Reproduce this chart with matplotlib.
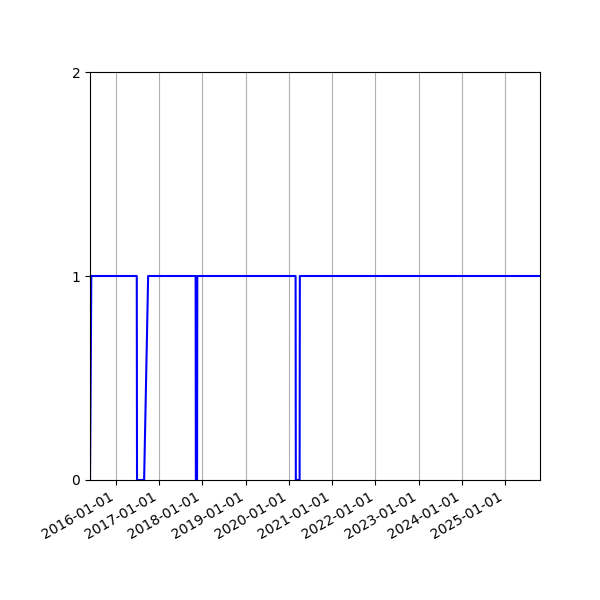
import matplotlib
matplotlib.use("Agg")
import matplotlib.pyplot as plt
import matplotlib.dates as mdates
import pandas as pd

# status series (0 = down, 1 = up)
dates = ["2015-05-28", "2015-06-08", "2016-06-26", "2016-06-28", "2016-08-27",
         "2016-09-30", "2017-11-05", "2017-11-07", "2017-11-17", "2017-11-19",
         "2020-02-27", "2020-02-29", "2020-04-01", "2020-04-03", "2025-10-22"]
values = [0, 1, 1, 0, 0, 1, 1, 0, 0, 1, 1, 0, 0, 1, 1]

x = pd.to_datetime(dates)

fig, ax = plt.subplots(figsize=(6, 6), dpi=100)
ax.plot(x, values, color="blue")

ax.set_xlim(x[0], x[-1])
ax.set_ylim(0, 2)
ax.set_yticks([0, 1, 2])
ax.xaxis.set_major_locator(mdates.YearLocator())
ax.xaxis.set_major_formatter(mdates.DateFormatter("%Y-%m-%d"))
ax.grid(axis="x")
fig.autofmt_xdate()
fig.subplots_adjust(left=0.15, right=0.9, top=0.88, bottom=0.2)

fig.savefig("out.png")
